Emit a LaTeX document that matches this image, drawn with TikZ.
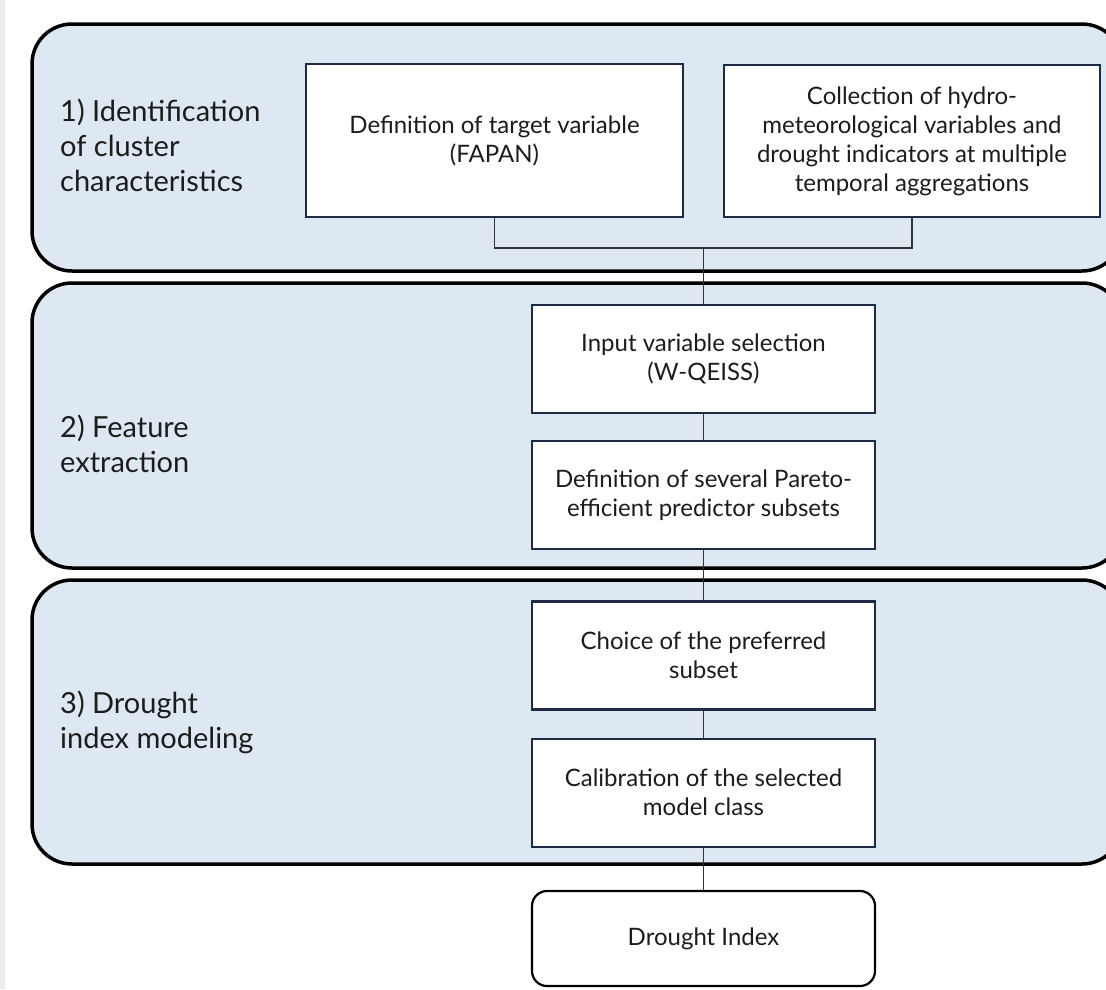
\documentclass[tikz,border=0pt]{standalone}
\usepackage{fontspec}
\setmainfont{Lato}
\usetikzlibrary{positioning}
\definecolor{panelfill}{RGB}{222,232,243}
\definecolor{boxline}{RGB}{30,42,68}
\definecolor{textcol}{RGB}{28,28,28}
\begin{document}
\begin{tikzpicture}[
        x=1pt, y=-1pt,
        panel/.style={draw=black, line width=3.5pt, fill=panelfill, rounded corners=40pt},
        stage/.style={anchor=west, align=left, text=textcol, inner sep=0pt, font=\fontsize{29}{35}\selectfont},
        task/.style={draw=boxline, line width=2.2pt, fill=white, align=center, text=textcol,
          font=\fontsize{24}{29}\selectfont, minimum width=343pt, minimum height=108pt, inner sep=0pt},
        result/.style={task, draw=black, rounded corners=15pt},
        link/.style={draw=black!80, line width=1.5pt}
      ]
      \useasboundingbox (0,0) rectangle (1106,989);
      \clip (0,0) rectangle (1106,989);
      \fill[white] (0,0) rectangle (1106,989);
      \fill[black!8] (0,0) rectangle (5,989);
      \draw[panel] (32,24) rectangle (1122,271);
      \draw[panel] (32,283) rectangle (1122,568);
      \draw[panel] (32,580) rectangle (1122,864);
      \node[stage] (stage1) at (60,145) {1) Identification\\of cluster\\characteristics};
      \node[stage] (stage2) at (60,444) {2) Feature\\extraction};
      \node[stage] (stage3) at (60,722) {3) Drought\\index modeling};
      \node[task, minimum width=377pt, minimum height=153pt] (target) at (494.5,140.5)
        {Definition of target variable\\(FAPAN)};
      \node[task, minimum width=376pt, minimum height=152pt] (collect) at (912,141)
        {Collection of hydro-\\meteorological variables and\\drought indicators at multiple\\temporal aggregations};
      \node[task] (select) at (703.5,359) {Input variable selection\\(W-QEISS)};
      \node[task, below=26pt of select] (pareto) {Definition of several Pareto-\\efficient predictor subsets};
      \node[task] (choice) at (703.5,655.5) {Choice of the preferred\\subset};
      \node[task, below=27pt of choice] (calib) {Calibration of the selected\\model class};
      \node[result, minimum height=95pt] (index) at (703.5,938.5) {Drought Index};
      \coordinate (join) at (703.5,248);
      \draw[link] (target.south) |- (join) -| (collect.south);
      \draw[link] (join) -- (select.north);
      \draw[link] (select) -- (pareto);
      \draw[link] (pareto) -- (choice);
      \draw[link] (choice) -- (calib);
      \draw[link] (calib) -- (index);
      \end{tikzpicture}
\end{document}
